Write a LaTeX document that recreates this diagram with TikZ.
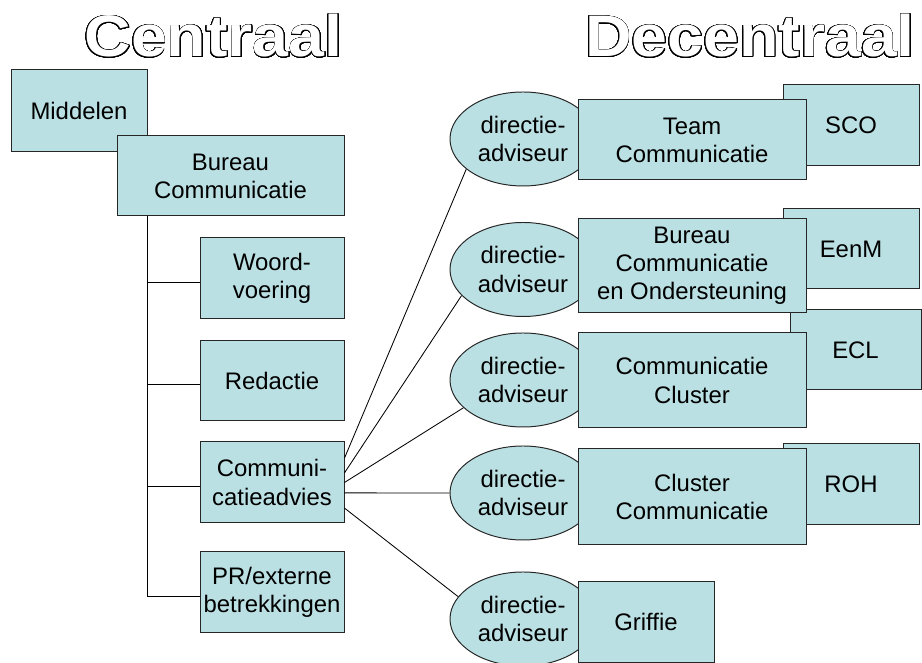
\documentclass[tikz,border=0pt]{standalone}
\usepackage{fontspec}
\setmainfont{Liberation Sans}
\usepackage[copies]{contour}
\contourlength{0.5pt}
\contournumber{40}
\usetikzlibrary{shapes.geometric}
\definecolor{boxblue}{RGB}{187,224,227}

\begin{document}
\begin{tikzpicture}[
  box/.style={draw=black!85,line width=0.7pt,fill=boxblue,rectangle,align=center,inner sep=0pt,font=\fontsize{17}{20}\selectfont},
  adv/.style={box,ellipse,minimum width=3.65cm,minimum height=2.35cm},
  kop/.style={anchor=base,xscale=1.1,font=\fontsize{41.7}{48}\selectfont\bfseries}]
  \useasboundingbox (0,0) rectangle (23.05,16.575);
  % koppen
  \node[kop] (ckop) at (5.34,15.15) {\contour{black}{\textcolor{white}{Centraal}}};
  \node[kop] (dkop) at (18.75,15.15) {\contour{black}{\textcolor{white}{Decentraal}}};
  % centraal
  \node[box,minimum width=3.4cm,minimum height=2.05cm] (mid) at (1.975,13.8) {Middelen};
  \node[box,minimum width=5.675cm,minimum height=2cm] (bc) at (5.7625,12.175) {Bureau\\Communicatie};
  \coordinate (sp) at (3.675,0);
  \draw[line width=0.6pt] (sp |- bc.south) |- (6.8,1.675);
  \node[box,minimum width=3.6cm,minimum height=2.025cm] (wv) at (6.8,9.6125) {Woord-\\voering};
  \node[box,minimum width=3.6cm,minimum height=2cm] (red) at (6.8,7.05) {Redactie};
  \node[box,minimum width=3.6cm,minimum height=2.025cm] (ca) at (6.8,4.5125) {Communi-\\catieadvies};
  \node[box,minimum width=3.6cm,minimum height=2cm] (pr) at (6.8,1.775) {PR/externe\\betrekkingen};
  \foreach \n in {wv,red,ca}
    \draw[line width=0.6pt] ([yshift=-0.09cm]sp |- \n.west) -- ([yshift=-0.09cm]\n.west);
  % decentraal
  \node[box,minimum width=3.4cm,minimum height=2.025cm] (sco) at (21.275,13.4375) {SCO};
  \node[box,minimum width=3.4cm,minimum height=2cm] (eenm) at (21.275,10.35) {EenM};
  \node[box,minimum width=3.275cm,minimum height=2cm] (ecl) at (21.3875,7.825) {ECL};
  \node[box,minimum width=3.4cm,minimum height=2.025cm] (roh) at (21.275,4.4625) {ROH};
  \node[adv] (d1) at (13.075,13.1) {directie-\\adviseur};
  \node[adv] (d2) at (13.075,9.8375) {directie-\\adviseur};
  \node[adv] (d3) at (13.075,7.075) {directie-\\adviseur};
  \node[adv] (d4) at (13.075,4.25) {directie-\\adviseur};
  \node[adv] (d5) at (13.075,1.1) {directie-\\adviseur};
  \node[box,minimum width=5.7cm,minimum height=2cm] (tc) at (17.3,13.075) {Team\\Communicatie};
  \node[box,minimum width=5.7cm,minimum height=2.35cm] (bco) at (17.3,9.925) {Bureau\\Communicatie\\en Ondersteuning};
  \node[box,minimum width=5.7cm,minimum height=2.375cm] (cc) at (17.3,7.0625) {Communicatie\\Cluster};
  \node[box,minimum width=5.7cm,minimum height=2.4cm] (clc) at (17.3,4.15) {Cluster\\Communicatie};
  \node[box,minimum width=3.4cm,minimum height=2cm] (gr) at (16.15,1.025) {Griffie};
  % lijnen naar de directieadviseurs
  \draw[line width=0.6pt] ([yshift=0.61cm]ca.east) -- (d1.208);
  \draw[line width=0.6pt] ([yshift=0.24cm]ca.east) -- (d2.203);
  \draw[line width=0.6pt] (ca.east) -- (d3.205);
  \draw[line width=0.6pt] ([yshift=-0.26cm]ca.east) -- (d4.west);
  \draw[line width=0.6pt] ([yshift=-0.64cm]ca.east) -- (d5.161);
\end{tikzpicture}
\end{document}
